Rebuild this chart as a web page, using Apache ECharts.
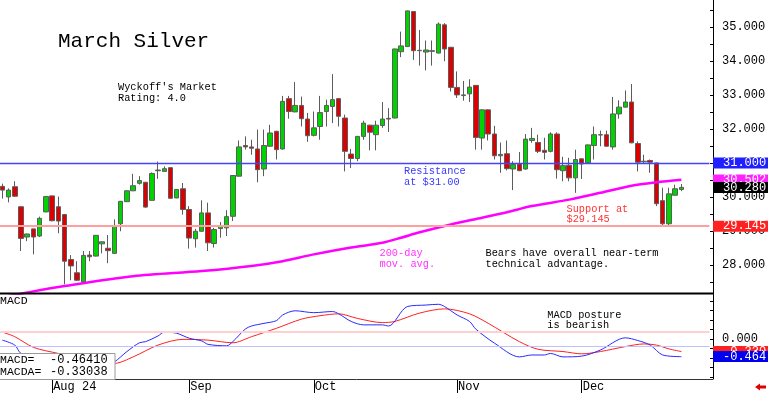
<!DOCTYPE html>
<html><head><meta charset="utf-8">
<script src="https://cdn.jsdelivr.net/npm/echarts@6/dist/echarts.min.js"></script>
<style>html,body{margin:0;padding:0;background:#fff}#c{width:768px;height:394px}</style>
</head><body><div id="c"></div>
<script>
// ---- categories (trading days, 2024; last 4 are empty future days) ----
const tradingDays = [
  ['07', [22,23,24,25,26,29,30,31]],
  ['08', [1,2,5,6,7,8,9,12,13,14,15,16,19,20,21,22,23,26,27,28,29,30]],
  ['09', [3,4,5,6,9,10,11,12,13,16,17,18,19,20,23,24,25,26,27,30]],
  ['10', [1,2,3,4,7,8,9,10,11,14,15,16,17,18,21,22,23,24,25,28,29,30,31]],
  ['11', [1,4,5,6,7,8,11,12,13,14,15,18,19,20,21,22,25,26,27,29]],
  ['12', [2,3,4,5,6,9,10,11,12,13,16,17,18,19,20,23,24,26,27,30,31]]
];
const monthLabels = {'2024-08-01':'Aug 24','2024-09-03':'Sep','2024-10-01':'Oct','2024-11-01':'Nov','2024-12-02':'Dec'};

// ---- OHLC ----
const opens = [30.31,30.00,30.30,29.71,28.82,29.06,28.85,29.56,30.03,29.71,
29.48,28.16,27.77,27.50,28.29,28.26,28.62,28.49,28.34,29.21,
29.86,30.18,30.40,30.43,29.90,30.79,30.75,30.86,29.97,30.24,
29.63,28.77,28.99,29.53,28.63,29.07,29.09,29.43,30.61,31.51,
31.47,31.41,30.82,31.49,31.93,31.41,32.89,32.50,32.69,32.29,
31.81,32.07,32.51,32.66,32.89,32.32,31.26,31.13,31.78,32.11,
31.83,32.10,32.31,32.32,34.27,34.42,35.45,34.31,34.26,34.28,
34.23,35.06,34.40,33.22,32.98,33.03,33.28,31.73,32.56,31.85,
31.21,31.27,30.82,30.97,30.82,31.66,31.60,31.37,31.34,31.85,
30.77,30.93,30.56,31.12,31.00,31.51,31.82,31.83,31.47,32.44,
32.64,32.79,31.57,31.03,31.07,31.00,29.89,29.21,30.05,30.22];
const closes = [30.20,30.20,30.02,28.78,28.91,28.82,29.37,30.01,29.30,29.29,
28.11,27.97,27.55,28.28,28.24,28.87,28.68,28.42,29.16,29.87,
30.18,30.33,30.48,29.70,30.69,30.77,30.83,29.96,30.22,29.63,
28.79,28.99,29.53,28.65,29.04,29.14,29.42,30.63,31.47,31.47,
31.43,30.80,31.51,31.88,31.39,32.81,32.51,32.69,32.30,31.80,
32.03,32.48,32.69,32.86,32.37,31.34,31.13,31.78,32.17,31.90,
32.11,32.29,32.29,34.35,34.44,35.47,34.30,34.30,34.32,34.30,
35.08,34.35,33.22,33.00,33.00,33.23,31.75,32.56,31.85,31.21,
31.25,30.83,30.95,30.77,31.70,31.72,31.34,31.31,31.85,30.80,
30.92,30.56,31.10,30.97,31.53,31.83,31.83,31.49,32.44,32.64,
32.79,31.59,31.02,31.05,31.02,29.80,29.21,30.09,30.24,30.28];
const lows = [29.95,29.84,30.00,28.41,28.70,28.31,28.82,29.55,29.28,28.93,
27.43,27.55,27.53,27.48,28.11,28.25,28.34,28.05,28.33,28.99,
29.85,30.17,30.36,29.68,29.89,30.53,30.74,29.95,29.96,29.48,
28.48,28.51,28.98,28.41,28.51,28.80,28.85,29.29,30.60,31.39,
31.24,30.43,30.61,31.48,31.10,31.39,32.30,32.49,32.07,31.62,
31.78,31.68,32.07,32.17,32.07,30.75,30.85,31.05,31.68,31.37,
31.37,32.03,31.91,32.31,34.11,34.41,34.03,33.86,33.72,33.86,
34.22,33.99,33.10,32.91,32.83,32.79,31.39,31.39,31.66,31.10,
30.71,30.78,30.20,30.76,30.80,31.59,31.29,31.10,31.31,30.54,
30.46,30.46,30.12,30.53,30.99,31.10,31.49,31.48,31.39,32.30,
32.63,31.58,30.75,31.00,30.71,29.73,29.145,29.16,30.04,30.17];
const highs = [30.39,30.25,30.46,29.72,28.92,29.07,29.42,30.02,30.04,30.01,
29.50,28.29,28.11,28.41,28.41,28.88,28.69,28.88,29.34,29.88,
30.20,30.68,30.61,30.44,30.72,31.04,30.90,30.87,30.23,30.41,
29.73,29.06,29.90,29.83,29.09,29.26,29.61,30.64,31.66,31.78,
31.68,31.98,31.98,32.12,31.94,32.97,32.97,33.38,32.95,32.47,
32.51,32.97,32.86,33.61,32.90,32.42,31.41,31.79,32.24,32.12,
32.24,32.79,32.61,34.36,34.86,35.48,35.46,34.91,34.60,34.60,
35.13,35.11,34.41,33.69,33.41,33.46,33.29,32.57,32.57,32.09,
31.60,31.66,31.05,31.32,31.85,32.03,31.83,31.74,31.90,31.90,
31.18,31.15,31.39,31.13,31.54,32.07,31.95,31.95,32.94,32.84,
33.13,33.32,31.63,31.24,31.10,31.01,30.27,30.27,30.36,30.38];

// ---- 200-day moving average (read points: [dayIndex, value]) ----
const ma200 = [[0,27.05],[4,27.19],[10,27.38],[21,27.67],[32,27.82],[40,27.97],[45,28.11],[50,28.31],[56,28.51],[61,28.65],[64,28.80],[67,28.96],[72,29.19],[77,29.39],[81,29.55],[85,29.73],[91,29.92],[96,30.12],[101,30.33],[105,30.43],[109,30.502]];

// ---- MACD (read points: [dayIndex, value]) ----
const macd = [[0,-0.03],[2,-0.16],[3,-0.38],[6,-0.55],[10,-0.80],[13,-0.88],[16,-0.75],[18,-0.60],[20,-0.33],[22,-0.10],[23,-0.07],[25,0.08],[26,0.18],[28,0.15],[30,0.02],[32,-0.05],[33,-0.14],[36,-0.18],[37,-0.07],[39,0.26],[40,0.34],[42,0.41],[44,0.48],[45,0.63],[47,0.74],[50,0.69],[53,0.72],[54,0.66],[56,0.46],[58,0.37],[61,0.37],[62,0.34],[65,0.85],[68,0.89],[70,0.91],[71,0.85],[73,0.63],[75,0.46],[76,0.26],[79,-0.11],[83,-0.47],[85,-0.42],[87,-0.42],[88,-0.38],[90,-0.47],[93,-0.45],[96,-0.29],[100,0.03],[102,-0.04],[104,-0.16],[106,-0.42],[109,-0.4641]];
const macdAvg = [[0,0.18],[2,0.06],[5,-0.22],[9,-0.38],[13,-0.52],[16,-0.60],[18,-0.64],[21,-0.47],[25,-0.16],[29,-0.01],[33,-0.03],[37,-0.10],[40,0.06],[44,0.28],[48,0.52],[51,0.61],[54,0.66],[57,0.54],[61,0.43],[63,0.46],[67,0.68],[71,0.79],[75,0.66],[78,0.41],[83,-0.07],[86,-0.27],[90,-0.33],[93,-0.39],[96,-0.33],[100,-0.20],[103,-0.13],[105,-0.16],[107,-0.26],[109,-0.33038]];
const macdLast = -0.46410, macdAvgLast = -0.33038;

// ---- levels / ticks ----
const resistance = 31.00, support = 29.145;
const priceTicks = [28,29,30,31,32,33,34,35];
const priceMinorTicks = [27.5,28,28.5,29,29.5,30,30.5,31,31.5,32,32.5,33,33.5,34,34.5,35,35.5];
const macdTicks = [0];
const macdMinorTicks = [-1,-0.75,-0.5,-0.25,0,0.25,0.5,0.75,1];
const macdBands = [0.2, -0.2];

// ---- build ----
const categories = [];
tradingDays.forEach(([m, ds]) => ds.forEach(d => categories.push('2024-' + m + '-' + String(d).padStart(2,'0'))));
const ohlc = opens.map((o,i) => [o, closes[i], lows[i], highs[i]]);
const lastClose = closes[closes.length-1];
const maLast = ma200[ma200.length-1][1];

const MONO = '"Liberation Mono", "DejaVu Sans Mono", monospace';
const GL = -0.8, GW = 710.2, AX = 713; // grid geometry
const axOff = AX - (GL + GW);
const HIDDEN = {color: 'rgba(0,0,0,0)', width: 0.01, type: 'solid'};

function tag(value, bg, lineStyle) {
  return {
    yAxis: value,
    lineStyle: lineStyle || HIDDEN,
    label: {show: true, position: 'end', distance: axOff, formatter: value.toFixed(3),
      backgroundColor: bg, color: '#fff', fontFamily: MONO, fontSize: 12, lineHeight: 11,
      padding: [0, 3, 0, 10], opacity: 1}
  };
}
function levelSeries(xi, yi, z, items) {
  return {type: 'line', xAxisIndex: xi, yAxisIndex: yi, data: [], z: z, silent: true,
    markLine: {silent: true, symbol: ['none','none'], animation: false, data: items}};
}

const chart = echarts.init(document.getElementById('c'), null, {renderer: 'canvas'});
const isMonth = (i, v) => Object.prototype.hasOwnProperty.call(monthLabels, v);

chart.setOption({
  animation: false,
  backgroundColor: '#fff',
  grid: [
    {left: GL, top: 0, width: GW, height: 293.5, outerBoundsMode: 'none', containLabel: false},
    {left: GL, top: 294, width: GW, height: 85, outerBoundsMode: 'none', containLabel: false}
  ],
  xAxis: [
    {type: 'category', gridIndex: 0, data: categories, boundaryGap: true, show: false},
    {type: 'category', gridIndex: 1, data: categories, boundaryGap: true, position: 'bottom',
      axisLine: {show: false, onZero: false},
      axisTick: {show: true, interval: isMonth, alignWithLabel: true, length: 14, lineStyle: {color: '#000', width: 1}},
      axisLabel: {show: true, interval: isMonth, formatter: v => monthLabels[v] || '', align: 'left',
        padding: [0, 0, 0, 1], margin: 2, color: '#000', fontFamily: MONO, fontSize: 12},
      splitLine: {show: false}}
  ],
  yAxis: [
    {type: 'value', gridIndex: 0, position: 'right', offset: axOff, min: 27.16, max: 35.79,
      axisLine: {show: true, onZero: false, lineStyle: {color: '#000', width: 1}},
      axisTick: {show: true, inside: true, length: 3, customValues: priceMinorTicks, lineStyle: {color: '#000'}},
      axisLabel: {show: true, customValues: priceTicks, formatter: v => v.toFixed(3), margin: 9,
        color: '#000', fontFamily: MONO, fontSize: 12},
      splitLine: {show: false}},
    {type: 'value', gridIndex: 1, position: 'right', offset: axOff, min: -1.05, max: 1.18,
      axisLine: {show: true, onZero: false, lineStyle: {color: '#000', width: 1}},
      axisTick: {show: true, inside: true, length: 3, customValues: macdMinorTicks, lineStyle: {color: '#000'}},
      axisLabel: {show: true, customValues: macdTicks, formatter: v => v.toFixed(3), margin: 9,
        color: '#000', fontFamily: MONO, fontSize: 12},
      splitLine: {show: false}}
  ],
  series: [
    levelSeries(0, 0, 1, [
      {yAxis: resistance, lineStyle: {color: '#4444ff', width: 1.3, type: 'solid'}, label: {show: false}},
      {yAxis: support, lineStyle: {color: '#ffa0a0', width: 2, type: 'solid'}, label: {show: false}}
    ]),
    levelSeries(1, 1, 1, [
      {yAxis: macdBands[0], lineStyle: {color: '#ffd0d0', width: 2, type: 'solid'}, label: {show: false}},
      {yAxis: macdBands[1], lineStyle: {color: '#c0c0ff', width: 1, type: 'solid'}, label: {show: false}}
    ]),
    {type: 'candlestick', xAxisIndex: 0, yAxisIndex: 0, data: ohlc, barWidth: 5, z: 2,
      itemStyle: {color: '#00d400', color0: '#dd0000', borderColor: '#5c5c5c', borderColor0: '#5c5c5c', borderWidth: 1}},
    {type: 'line', xAxisIndex: 0, yAxisIndex: 0, data: ma200, showSymbol: false, smooth: 0.3, clip: true,
      lineStyle: {color: '#ff00ff', width: 2.5}, z: 3},
    {type: 'line', xAxisIndex: 1, yAxisIndex: 1, data: macdAvg, showSymbol: false, smooth: 0.3, z: 3,
      lineStyle: {color: '#ff2020', width: 1}},
    {type: 'line', xAxisIndex: 1, yAxisIndex: 1, data: macd, showSymbol: false, smooth: 0.3, z: 4,
      lineStyle: {color: '#2a2aff', width: 1}},
    levelSeries(0, 0, 6, [tag(resistance, '#2020ff'), tag(support, '#ff2020'), tag(maLast, '#ff22ff')]),
    levelSeries(0, 0, 7, [tag(lastClose, '#000000')]),
    levelSeries(1, 1, 6, [tag(macdAvgLast, '#ff2020')]),
    levelSeries(1, 1, 7, [tag(macdLast, '#0000ee')])
  ],
  graphic: [
    {type: 'line', shape: {x1: 0, y1: 293.5, x2: AX, y2: 293.5}, style: {stroke: '#000', lineWidth: 2}, z: 10},
    {type: 'line', shape: {x1: 0, y1: 379.5, x2: AX, y2: 379.5}, style: {stroke: '#333', lineWidth: 1}, z: 10},
    {type: 'text', x: 58, y: 41, style: {text: 'March Silver', font: '21px ' + MONO, fill: '#000', verticalAlign: 'middle'}},
    {type: 'text', x: 118, y: 87.5, style: {text: "Wyckoff's Market", font: '10.3px ' + MONO, fill: '#000', verticalAlign: 'middle'}},
    {type: 'text', x: 118, y: 98.3, style: {text: 'Rating: 4.0', font: '10.3px ' + MONO, fill: '#000', verticalAlign: 'middle'}},
    {type: 'text', x: 404, y: 171.5, style: {text: 'Resistance', font: '10.3px ' + MONO, fill: '#3a3aff', verticalAlign: 'middle'}},
    {type: 'text', x: 404, y: 181.8, style: {text: 'at $31.00', font: '10.3px ' + MONO, fill: '#3a3aff', verticalAlign: 'middle'}},
    {type: 'text', x: 379.5, y: 253.3, style: {text: '200-day', font: '10.3px ' + MONO, fill: '#ff33ff', verticalAlign: 'middle'}},
    {type: 'text', x: 379.5, y: 263.8, style: {text: 'mov. avg.', font: '10.3px ' + MONO, fill: '#ff33ff', verticalAlign: 'middle'}},
    {type: 'text', x: 485.5, y: 253.5, style: {text: 'Bears have overall near-term', font: '10.3px ' + MONO, fill: '#000', verticalAlign: 'middle'}},
    {type: 'text', x: 485.5, y: 264, style: {text: 'technical advantage.', font: '10.3px ' + MONO, fill: '#000', verticalAlign: 'middle'}},
    {type: 'text', x: 566.5, y: 209.3, style: {text: 'Support at', font: '10.3px ' + MONO, fill: '#ff3333', verticalAlign: 'middle'}},
    {type: 'text', x: 566.5, y: 219.5, style: {text: '$29.145', font: '10.3px ' + MONO, fill: '#ff3333', verticalAlign: 'middle'}},
    {type: 'text', x: 547.3, y: 315, style: {text: 'MACD posture', font: '10.3px ' + MONO, fill: '#000', verticalAlign: 'middle'}},
    {type: 'text', x: 547.3, y: 325.5, style: {text: 'is bearish', font: '10.3px ' + MONO, fill: '#000', verticalAlign: 'middle'}},
    {type: 'text', x: 0, y: 300.5, style: {text: 'MACD', font: '11.5px ' + MONO, fill: '#000', verticalAlign: 'middle'}},
    {type: 'rect', shape: {x: -1, y: 353.5, width: 116, height: 26}, style: {fill: '#fff', stroke: '#9a9a9a', lineWidth: 1}, z: 20},
    {type: 'text', x: 0, y: 360.3, z: 21, style: {text: 'MACD=', font: '11.5px ' + MONO, fill: '#000', verticalAlign: 'middle'}},
    {type: 'text', x: 50, y: 360.3, z: 21, style: {text: macdLast.toFixed(5), font: '12px ' + MONO, fill: '#000', verticalAlign: 'middle'}},
    {type: 'text', x: 0, y: 371.8, z: 21, style: {text: 'MACDA=', font: '11.5px ' + MONO, fill: '#000', verticalAlign: 'middle'}},
    {type: 'text', x: 50, y: 371.8, z: 21, style: {text: macdAvgLast.toFixed(5), font: '12px ' + MONO, fill: '#000', verticalAlign: 'middle'}},
    {type: 'polygon', shape: {points: [[755,387],[760,383.5],[760,385.5],[766,385.5],[766,388.5],[760,388.5],[760,390.5]]}, style: {fill: '#e00000'}}
  ]
});
</script></body></html>
